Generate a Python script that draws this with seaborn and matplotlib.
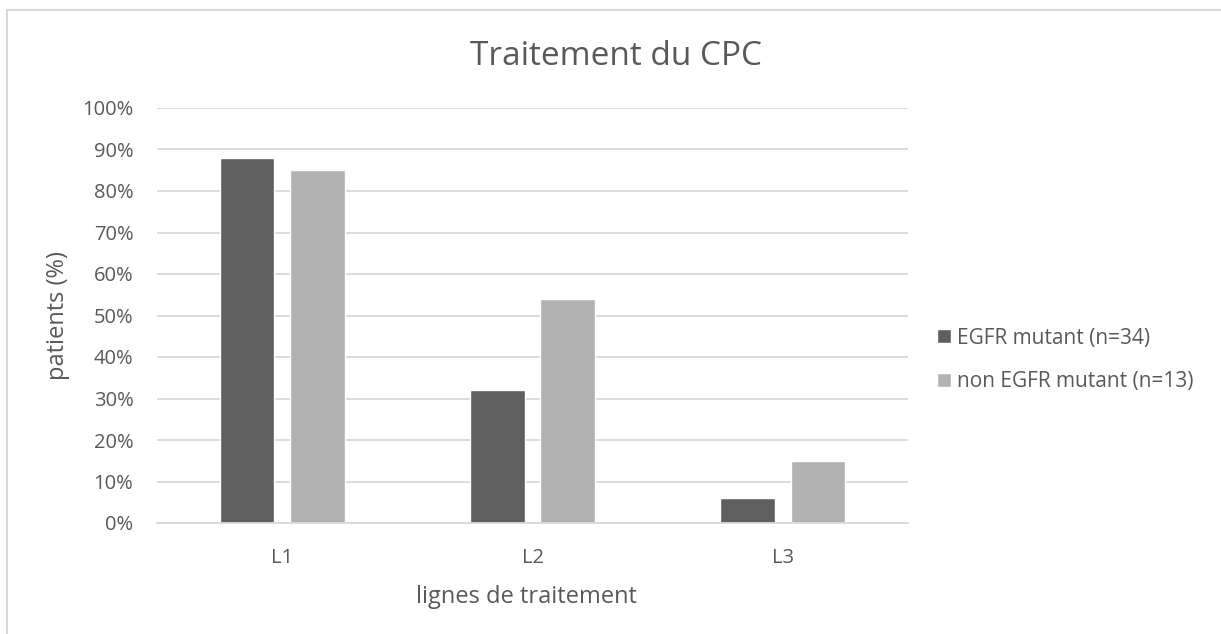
import pandas as pd
import matplotlib
matplotlib.use('Agg')
import matplotlib.pyplot as plt
import matplotlib.patches as mpatches
from matplotlib.ticker import PercentFormatter
import seaborn as sns

# ---------------  Data  ------------
lignes = ['L1', 'L2', 'L3']
series = ['EGFR mutant (n=34)', 'non EGFR mutant (n=13)']
egfr_mutant = [88, 32, 6]
non_egfr_mutant = [85, 54, 15]

df = pd.DataFrame({
    'ligne': lignes * 2,
    'groupe': [series[0]] * 3 + [series[1]] * 3,
    'pct': egfr_mutant + non_egfr_mutant,
})

# ---------------  Style  ------------
sns.set_style('white')
plt.rcParams['font.family'] = ['Open Sans', 'DejaVu Sans']
txt = '#595959'
W, H = 1221, 634

fig = plt.figure(figsize=(W / 100, H / 100), dpi=100)
ax = fig.add_axes([157 / W, 1 - 523 / H, 751 / W, 415 / H])

sns.barplot(data=df, x='ligne', y='pct', hue='groupe', ax=ax,
            palette=['#5f5f5f', '#b2b2b2'], width=0.56, gap=0.22,
            saturation=1, legend=True)

# ---------------  Axes  ------------
ax.set_ylim(0, 100)
ax.set_yticks(range(0, 101, 10))
ax.yaxis.set_major_formatter(PercentFormatter(decimals=0))
ax.grid(axis='y', color='#d9d9d9', linewidth=1.3)
ax.set_axisbelow(True)
for s in ['top', 'right', 'left']:
    ax.spines[s].set_visible(False)
ax.spines['bottom'].set_color('#d9d9d9')
ax.spines['bottom'].set_linewidth(1.3)
ax.tick_params(axis='both', length=0, labelsize=14.5, colors=txt)
ax.tick_params(axis='x', pad=18)
ax.tick_params(axis='y', pad=17)
ax.set_xlabel('')
ax.set_ylabel('')

fig.text(526 / W, 1 - 585 / H, 'lignes de traitement', ha='center', va='top',
         fontsize=17, color=txt)
fig.text(58.5 / W, 1 - 315.5 / H, 'patients (%)', ha='center', va='center',
         rotation=90, fontsize=17, color=txt)
fig.text(616 / W, 1 - 65 / H, 'Traitement du CPC', ha='center', va='baseline',
         fontsize=24, color=txt)

# ---------------  Legend  ------------
handles, labels = ax.get_legend_handles_labels()
ax.legend(handles, labels, loc='center left', bbox_to_anchor=(937 / W, 1 - 360 / H),
          bbox_transform=fig.transFigure, frameon=False, fontsize=15,
          labelcolor=txt, handlelength=0.67, handleheight=0.67,
          handletextpad=0.3, labelspacing=1.1, borderpad=0, borderaxespad=0)

# chart border
fig.patches.append(mpatches.Rectangle((7 / W, -0.1), 1.2, 1 - 10 / H + 0.1,
                                      transform=fig.transFigure, fill=False,
                                      edgecolor='#d9d9d9', linewidth=1.5))

fig.savefig('out.png', dpi=100)
